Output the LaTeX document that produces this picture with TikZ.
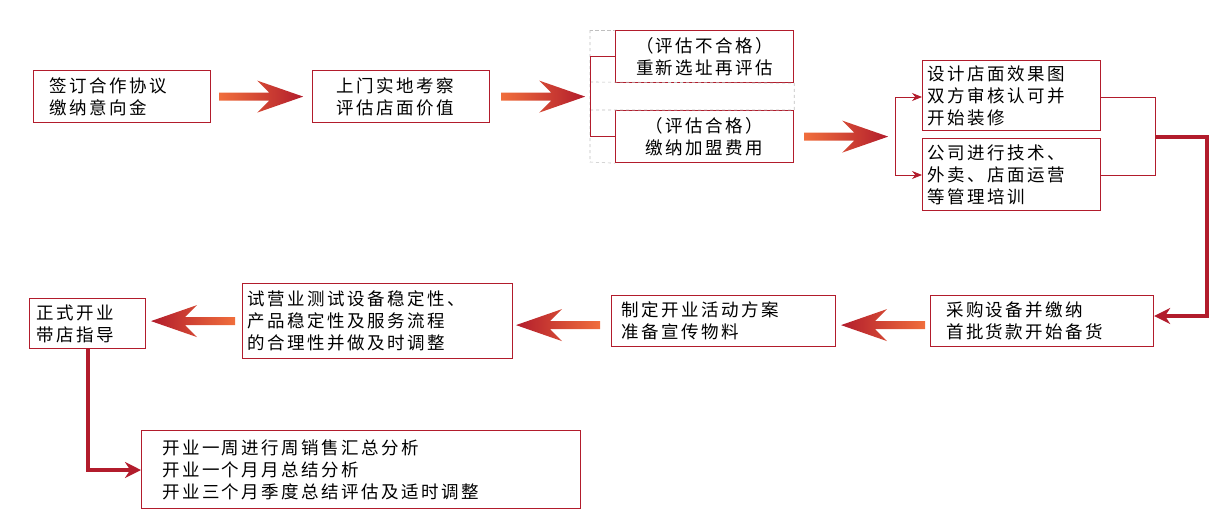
\documentclass[tikz,border=0pt]{standalone}
\usepackage{fontspec}
\setmainfont{Noto Sans CJK SC}
\usetikzlibrary{positioning,calc,arrows.meta}
\definecolor{boxred}{RGB}{178,28,44}
\definecolor{arrorange}{RGB}{240,110,60}
\tikzset{
  stagebox/.style={draw=boxred, line width=1.2pt, align=left, anchor=north west,
    font=\fontsize{17.5pt}{22pt}\selectfont\addfontfeature{LetterSpace=14}, inner sep=0pt},
  thinlink/.style={draw=boxred, line width=0.9pt},
  thicklink/.style={draw=boxred, line width=4pt},
  gridline/.style={draw=gray!50, dashed, line width=0.6pt}
}
% fat shaded arrow, tail at #1, direction #2 (1 right, -1 left), colours #3 and #4 left to right
\newcommand{\bigarrow}[4]{%
  \begin{scope}[shift={#1}, xscale=#2]
    \shade[left color=#3, right color=#4]
      (0,-4) -- (50,-4) -- (38,-16) -- (84,0) -- (38,16) -- (50,4) -- (0,4) -- cycle;
  \end{scope}}

\begin{document}
\begin{tikzpicture}[x=1pt, y=-1pt]
\useasboundingbox (0,0) rectangle (1220,525);
%% Place nodes
\node[stagebox, minimum width=177pt, minimum height=52pt, text width=165pt] (sign) at (33,70) {\hspace*{10pt}签订合作协议\\\hspace*{10pt}缴纳意向金};
\node[stagebox, minimum width=177pt, minimum height=52pt, text width=165pt] (visit) at (312,70) {\hspace*{18pt}上门实地考察\\\hspace*{18pt}评估店面价值};
\node[stagebox, minimum width=178pt, minimum height=52pt, align=center, text width=178pt] (fail) at (615,30) {（评估不合格）\\重新选址再评估};
\node[stagebox, minimum width=178pt, minimum height=52pt, align=center, text width=178pt] (pass) at (615,110) {（评估合格）\\缴纳加盟费用};
\node[stagebox, minimum width=178pt, minimum height=70pt, text width=176pt] (design) at (922,60) {\hspace*{4pt}设计店面效果图\\\hspace*{4pt}双方审核认可并\\\hspace*{4pt}开始装修};
\node[stagebox, minimum width=178pt, minimum height=72pt, text width=176pt] (train) at (922,138) {\hspace*{4pt}公司进行技术、\\\hspace*{4pt}外卖、店面运营\\\hspace*{4pt}等管理培训};
\node[stagebox, minimum width=223pt, minimum height=51pt, text width=220pt] (buy) at (930,295) {\hspace*{14pt}采购设备并缴纳\\\hspace*{14pt}首批货款开始备货};
\node[stagebox, minimum width=224pt, minimum height=51pt, text width=220pt] (plan) at (611,295) {\hspace*{8pt}制定开业活动方案\\\hspace*{8pt}准备宣传物料};
\node[stagebox, minimum width=270pt, minimum height=75pt, text width=268pt] (trial) at (242,283) {\hspace*{4pt}试营业测试设备稳定性、\\\hspace*{4pt}产品稳定性及服务流程\\\hspace*{4pt}的合理性并做及时调整};
\node[stagebox, minimum width=116pt, minimum height=50pt, text width=114pt] (open) at (29,298) {\hspace*{6pt}正式开业\\\hspace*{6pt}带店指导};
\node[stagebox, minimum width=439pt, minimum height=78pt, text width=430pt] (review) at (141,430) {\hspace*{16pt}开业一周进行周销售汇总分析\\\hspace*{16pt}开业一个月月总结分析\\\hspace*{16pt}开业三个月季度总结评估及适时调整};

%% Dashed grid around the two results
\draw[gridline] (590,30) rectangle (fail.north west);
\draw[gridline] (590,30) -- (590,162) -- (pass.south west);
\draw[gridline] (590,82) -- (fail.south east) -- (pass.north east) -- (590,110);

%% Big arrows
\bigarrow{($(sign.east)+(8,0)$)}{1}{arrorange}{boxred}
\bigarrow{($(visit.east)+(11,0)$)}{1}{arrorange}{boxred}
\bigarrow{($(pass.east)+(10,0)$)}{1}{arrorange}{boxred}
\bigarrow{($(buy.west)+(-5,4)$)}{-1}{boxred}{arrorange}
\bigarrow{($(plan.west)+(-11,4)$)}{-1}{boxred}{arrorange}
\bigarrow{($(trial.west)+(-7,0)$)}{-1}{boxred}{arrorange}

%% Thin brackets
\draw[thinlink] (fail.west) -- ++(-25,0) |- (pass.west);
\coordinate (split) at (895,97);
\draw[thinlink, -{Stealth[length=10pt,width=8pt]}] (split) -- (design.west |- split);
\draw[thinlink, -{Stealth[length=10pt,width=8pt]}] (split) -- (895,175) -- (train.west |- 0,175);
\draw[thinlink] (design.east |- 0,97) -- (1155,97) -- (1155,175) -- (train.east |- 0,175);

%% Thick connectors
\coordinate (join) at (1155,137);
\draw[thicklink, -{Stealth[length=16pt,width=16pt]}] (join) -- (1207,137) |- (buy.east |- 0,316);
\draw[thicklink, -{Stealth[length=16pt,width=16pt]}] (open.south -| 88,0) |- (review.west |- 0,470);
\end{tikzpicture}
\end{document}
